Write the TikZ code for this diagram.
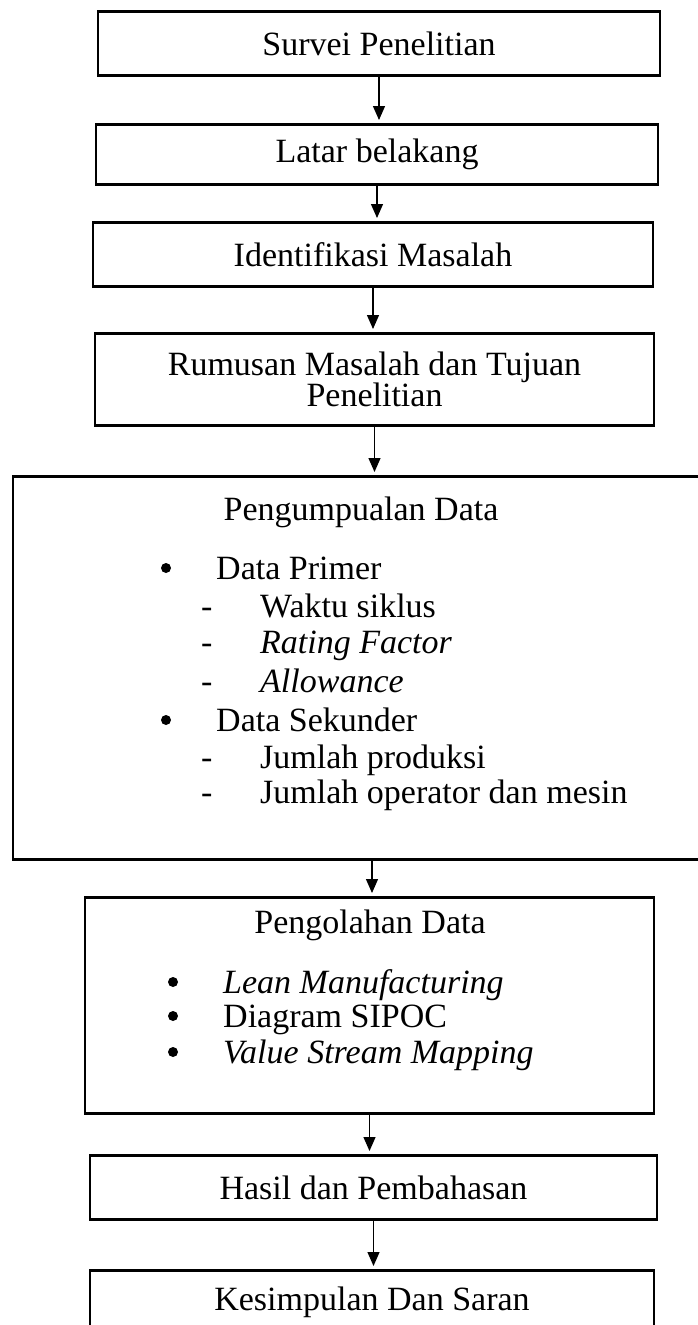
\documentclass[tikz,border=0pt]{standalone}
\usepackage{fontspec}
\setmainfont{Liberation Serif}
\usetikzlibrary{positioning}
\usetikzlibrary{arrows.meta}

\newcommand{\boxfont}{\fontsize{34}{37}\selectfont}
\newcommand{\dashitem}[1]{\makebox[59pt][l]{-}#1}

\tikzset{
  stepbox/.style={draw, rectangle, line width=2.8pt, inner sep=0pt, anchor=north, align=center},
  itemtext/.style={anchor=base west, inner sep=0pt},
  flowarrow/.style={line width=1.3pt, -{Triangle[length=14pt, width=12pt]}, shorten >=3pt}
}

\begin{document}
\begin{tikzpicture}[x=1pt, y=-1pt, font=\boxfont]
\useasboundingbox (0,0) rectangle (698,1325);
\clip (0,0) rectangle (698,1325);
% main steps
\node[stepbox, minimum width=562pt, minimum height=64pt] (survei) at (379,10) {Survei Penelitian};
\node[stepbox, minimum width=562pt, minimum height=60pt] (latar) at (377,123) {Latar belakang};
\node[stepbox, minimum width=560pt, minimum height=64pt] (identifikasi) at (373,221) {Identifikasi Masalah};
\node[stepbox, minimum width=559pt, minimum height=92pt, font=\fontsize{34}{27}\selectfont] (rumusan) at (374.5,332) {Rumusan Masalah dan Tujuan\\Penelitian};
\node[stepbox, minimum width=718pt, minimum height=383pt] (pengumpulan) at (372,475) {};
\node[stepbox, minimum width=569pt, minimum height=216pt] (pengolahan) at (369.5,896) {};
\node[stepbox, minimum width=567pt, minimum height=64pt] (hasil) at (373.5,1154) {Hasil dan Pembahasan};
\node[stepbox, minimum width=564pt, minimum height=64pt] (kesimpulan) at (372,1269) {Kesimpulan Dan Saran};
% pengumpulan data
\node (judulkumpul) at (361,512) {Pengumpualan Data};
\node[itemtext] (primer) at (216,579) {Data Primer};
\node[itemtext] (waktu) at (201,617) {\dashitem{Waktu siklus}};
\node[itemtext] (rating) at (201,653) {\dashitem{\textit{Rating Factor}}};
\node[itemtext] (allowance) at (201,692) {\dashitem{\textit{Allowance}}};
\node[itemtext] (sekunder) at (216,731) {Data Sekunder};
\node[itemtext] (produksi) at (201,768) {\dashitem{Jumlah produksi}};
\node[itemtext] (operator) at (201,803) {\dashitem{Jumlah operator dan mesin}};
% pengolahan data
\node (judulolah) at (370,925) {Pengolahan Data};
\node[itemtext] (lean) at (223,993) {\textit{Lean Manufacturing}};
\node[itemtext] (sipoc) at (223,1027) {Diagram SIPOC};
\node[itemtext] (vsm) at (223,1063) {\textit{Value Stream Mapping}};
% bullets
\foreach \item in {primer, sekunder, lean, sipoc, vsm}
  \fill ([shift={(-50pt,11pt)}]\item.base west) circle (5pt);
% arrows
\draw[flowarrow] (survei.south) -- (survei.south |- latar.north);
\draw[flowarrow] (latar.south) -- (latar.south |- identifikasi.north);
\draw[flowarrow] (identifikasi.south) -- (identifikasi.south |- rumusan.north);
\draw[flowarrow] (rumusan.south) -- (rumusan.south |- pengumpulan.north);
\draw[flowarrow] (pengumpulan.south) -- (pengumpulan.south |- pengolahan.north);
\draw[flowarrow] (pengolahan.south) -- (pengolahan.south |- hasil.north);
\draw[flowarrow] (hasil.south) -- (hasil.south |- kesimpulan.north);
\end{tikzpicture}
\end{document}
